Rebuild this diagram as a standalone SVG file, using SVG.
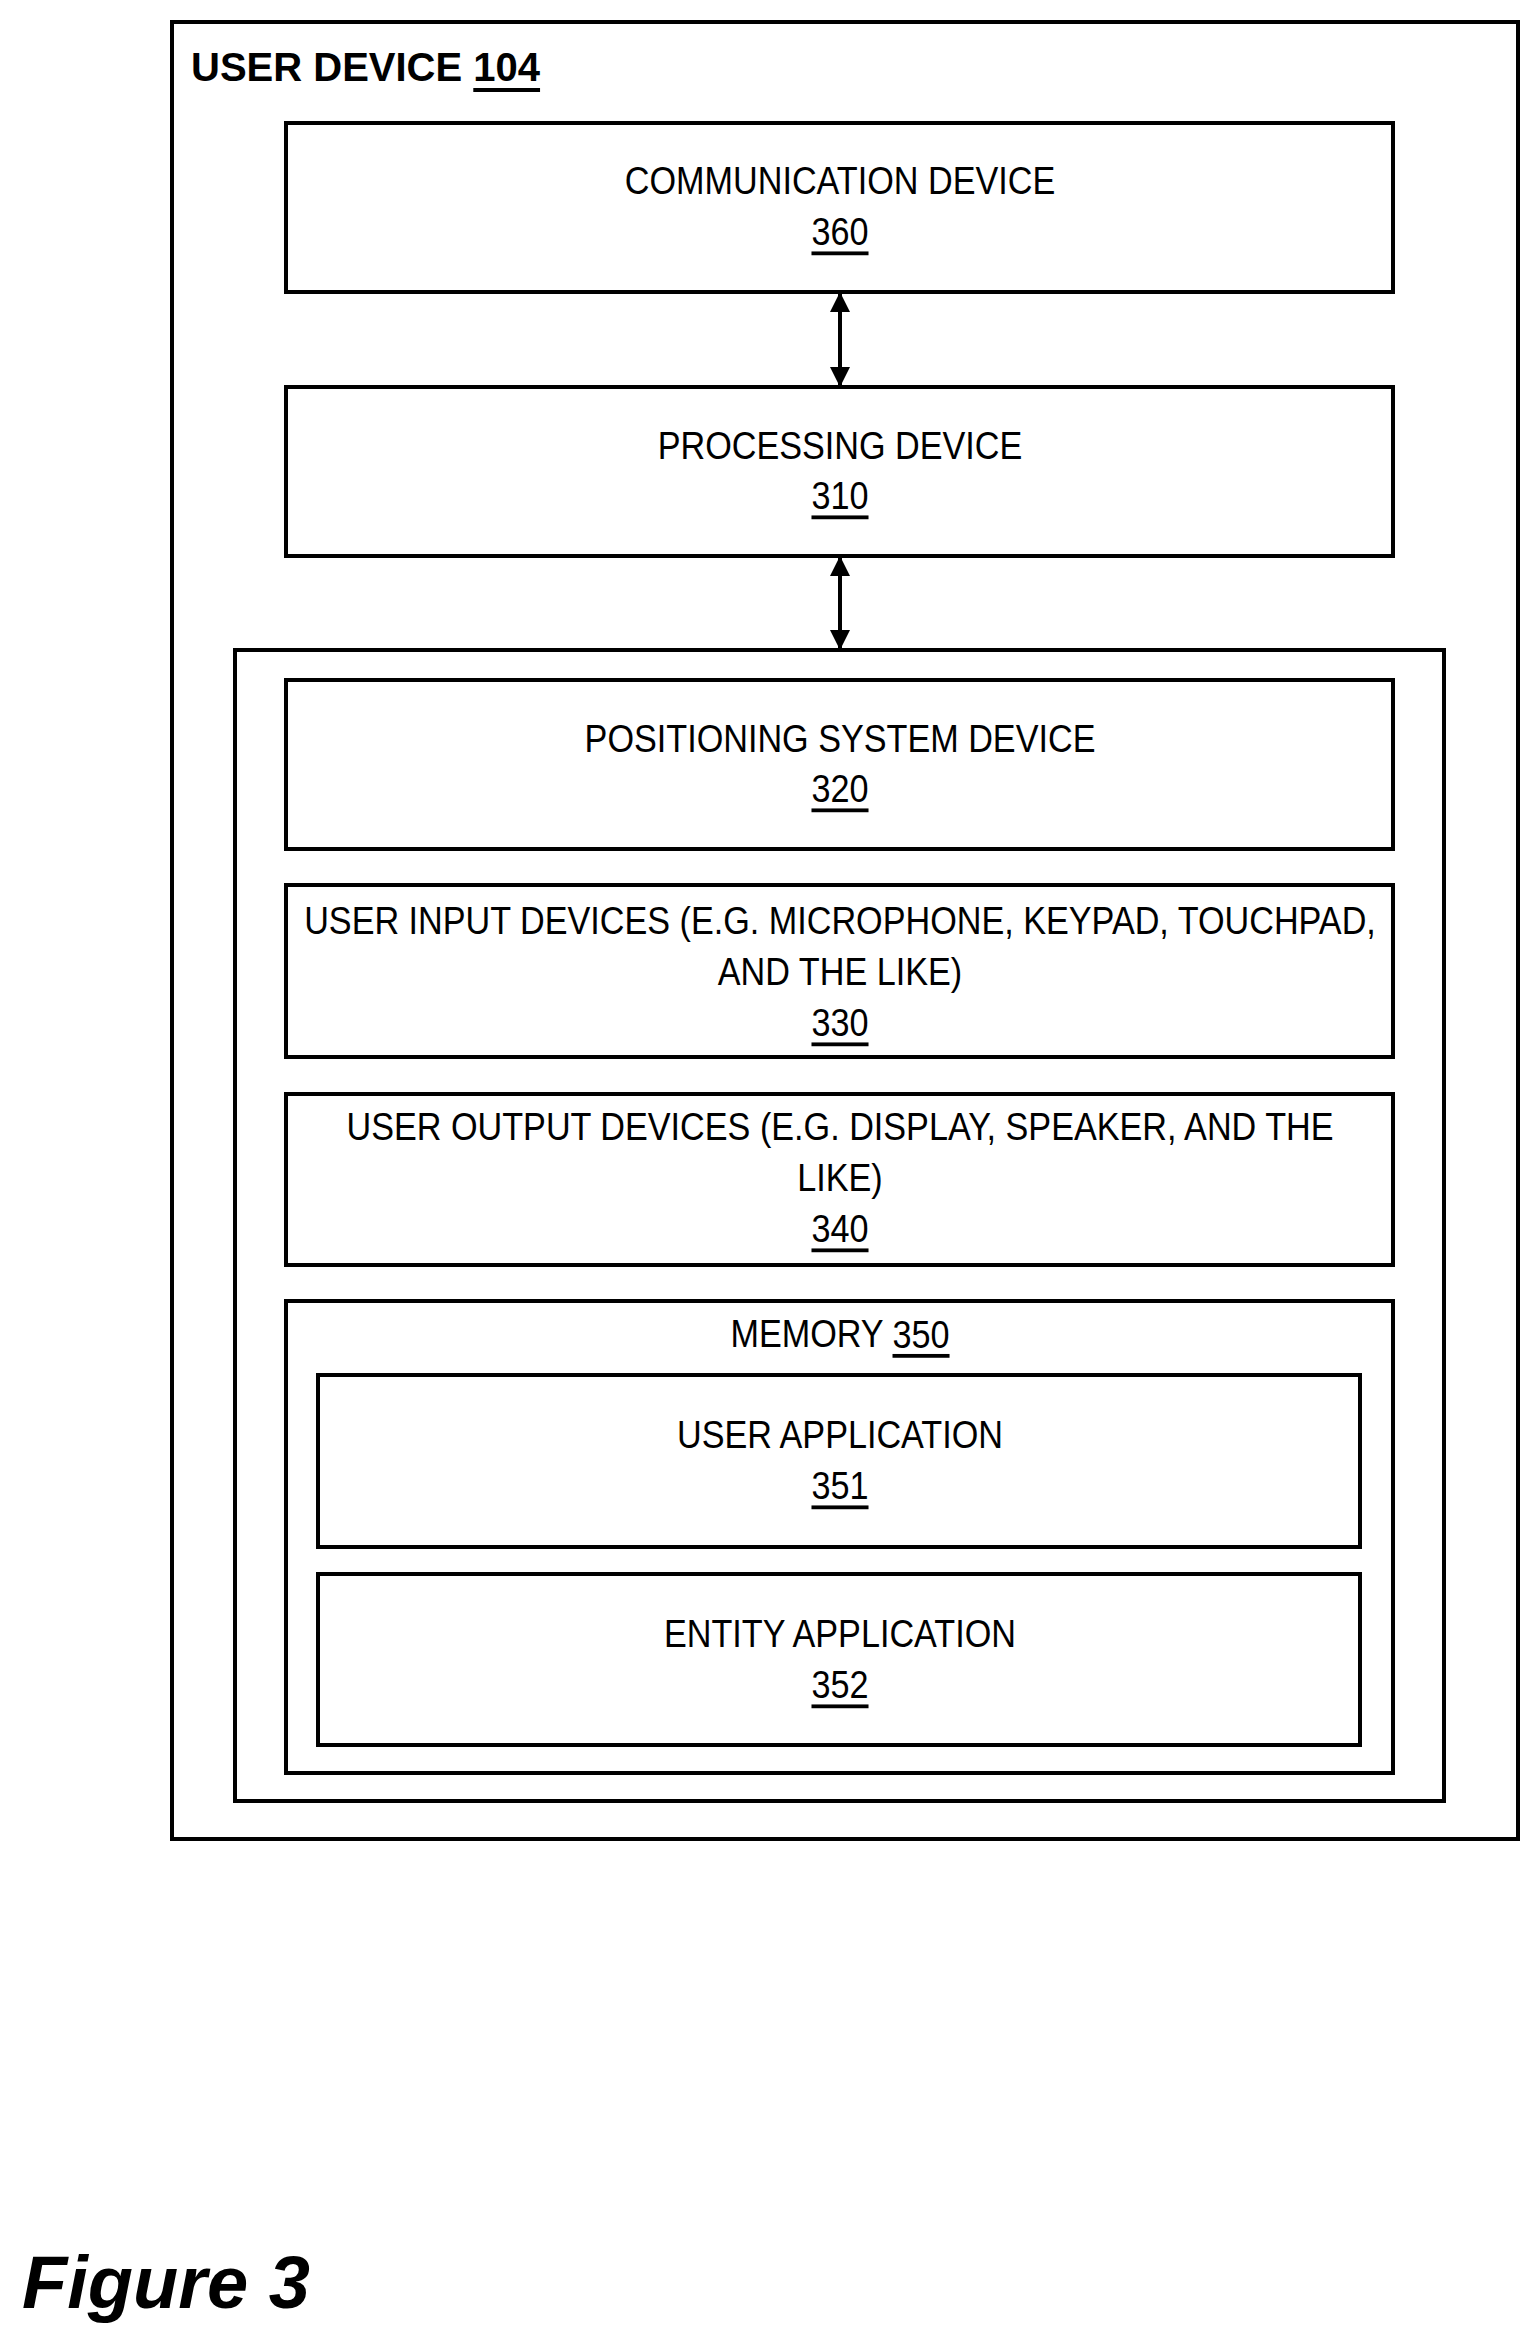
<svg xmlns="http://www.w3.org/2000/svg" width="1531" height="2329" viewBox="0 0 1531 2329">
<style>
rect{fill:none;stroke:#000;stroke-width:4}
text{font-family:"Liberation Sans",Arial,sans-serif;font-size:38px;text-anchor:middle;dominant-baseline:central;fill:#000}
.u{text-decoration:underline}
.c{stroke:#000;stroke-width:4;fill:none;marker-start:url(#a);marker-end:url(#a)}
</style>
<defs><marker id="a" viewBox="0 0 10 10" refX="9" refY="5" markerWidth="5" markerHeight="5" orient="auto-start-reverse" markerUnits="strokeWidth"><path d="M0,0L10,5L0,10z" fill="#000"/></marker></defs>
<rect width="1531" height="2329" style="fill:#fff;stroke:none"/>
<g id="user-device"><rect x="172" y="22" width="1346" height="1817"/>
<text x="191" y="67" style="text-anchor:start;font-weight:bold;font-size:40px">USER DEVICE <tspan class="u">104</tspan></text></g>
<g id="comm"><rect x="286" y="123" width="1107" height="169"/><g transform="translate(840,0) scale(0.9,1)"><text x="0" y="181">COMMUNICATION DEVICE</text><text x="0" y="232" class="u">360</text></g></g>
<g id="proc"><rect x="286" y="387" width="1107" height="169"/><g transform="translate(840,0) scale(0.9,1)"><text x="0" y="446">PROCESSING DEVICE</text><text x="0" y="496" class="u">310</text></g></g>
<g id="inner"><rect x="235" y="650" width="1209" height="1151"/></g>
<g id="pos"><rect x="286" y="680" width="1107" height="169"/><g transform="translate(840,0) scale(0.9,1)"><text x="0" y="739">POSITIONING SYSTEM DEVICE</text><text x="0" y="789" class="u">320</text></g></g>
<g id="input"><rect x="286" y="885" width="1107" height="172"/><g transform="translate(840,0) scale(0.9,1)"><text x="0" y="921">USER INPUT DEVICES (E.G. MICROPHONE, KEYPAD, TOUCHPAD,</text><text x="0" y="972">AND THE LIKE)</text><text x="0" y="1023" class="u">330</text></g></g>
<g id="output"><rect x="286" y="1094" width="1107" height="171"/><g transform="translate(840,0) scale(0.9,1)"><text x="0" y="1127">USER OUTPUT DEVICES (E.G. DISPLAY, SPEAKER, AND THE</text><text x="0" y="1178">LIKE)</text><text x="0" y="1229" class="u">340</text></g></g>
<g id="memory"><rect x="286" y="1301" width="1107" height="472"/><g transform="translate(840,0) scale(0.9,1)"><text x="0" y="1334">MEMORY <tspan class="u">350</tspan></text></g></g>
<g id="userapp"><rect x="318" y="1375" width="1042" height="172"/><g transform="translate(840,0) scale(0.9,1)"><text x="0" y="1435">USER APPLICATION</text><text x="0" y="1486" class="u">351</text></g></g>
<g id="entapp"><rect x="318" y="1574" width="1042" height="171"/><g transform="translate(840,0) scale(0.9,1)"><text x="0" y="1634">ENTITY APPLICATION</text><text x="0" y="1685" class="u">352</text></g></g>
<g id="connectors"><line class="c" x1="840" y1="294" x2="840" y2="385"/><line class="c" x1="840" y1="558" x2="840" y2="648"/></g>
<text x="22" y="2282" style="text-anchor:start;font-weight:bold;font-style:italic;font-size:74px">Figure 3</text>
</svg>
